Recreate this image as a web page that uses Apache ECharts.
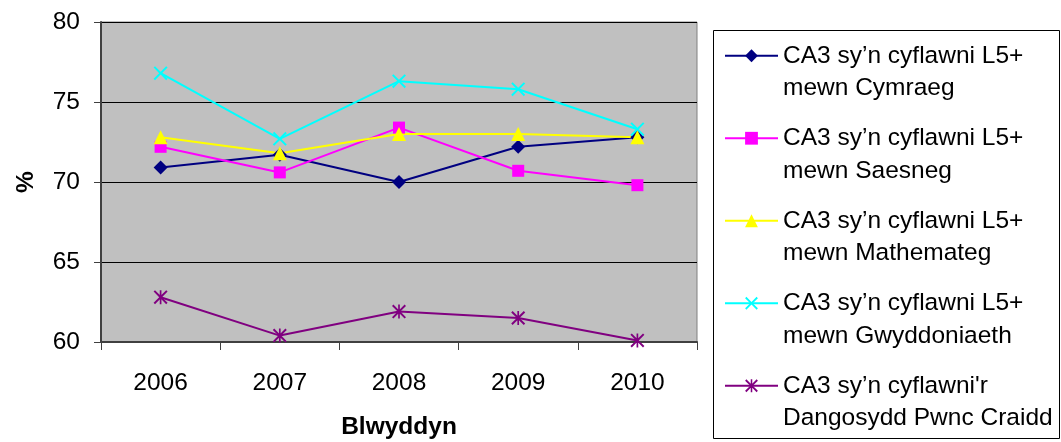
<!DOCTYPE html>
<html>
<head>
<meta charset="utf-8">
<script src="https://cdn.jsdelivr.net/npm/echarts@6/dist/echarts.min.js"></script>
<style>
html,body{margin:0;padding:0;background:#fff;}
#c{width:1061px;height:442px;}
</style>
</head>
<body>
<div id="c"></div>
<script>
const years = ['2006', '2007', '2008', '2009', '2010'];
const yTicks = { min: 60, max: 80, interval: 5 };

const seriesNames = [
  'CA3 sy’n cyflawni L5+ mewn Cymraeg',
  'CA3 sy’n cyflawni L5+ mewn Saesneg',
  'CA3 sy’n cyflawni L5+ mewn Mathemateg',
  'CA3 sy’n cyflawni L5+ mewn Gwyddoniaeth',
  "CA3 sy’n cyflawni'r Dangosydd Pwnc Craidd"
];
const legendLine1 = [
  'CA3 sy’n cyflawni L5+',
  'CA3 sy’n cyflawni L5+',
  'CA3 sy’n cyflawni L5+',
  'CA3 sy’n cyflawni L5+',
  "CA3 sy’n cyflawni'r"
];
const legendLine2 = [
  'mewn Cymraeg',
  'mewn Saesneg',
  'mewn Mathemateg',
  'mewn Gwyddoniaeth',
  'Dangosydd Pwnc Craidd'
];

const cymraeg      = [70.9, 71.7, 70.0, 72.2, 72.8];
const saesneg      = [72.2, 70.6, 73.4, 70.7, 69.8];
const mathemateg   = [72.8, 71.8, 73.0, 73.0, 72.8];
const gwyddoniaeth = [76.8, 72.7, 76.3, 75.8, 73.3];
const pwncCraidd   = [62.8, 60.4, 61.9, 61.5, 60.1];

const values = [cymraeg, saesneg, mathemateg, gwyddoniaeth, pwncCraidd];
const colors = ['#000080', '#FF00FF', '#FFFF00', '#00FFFF', '#800080'];

const xPath = 'path://M0,1L1,0L5,4L9,0L10,1L6,5L10,9L9,10L5,6L1,10L0,9L4,5Z';
const starPath = 'path://M0,1L1,0L5,4L9,0L10,1L6,5L10,9L9,10L5,6L1,10L0,9L4,5Z M4.4,0L5.6,0L5.6,10L4.4,10Z';
const symbols = ['diamond', 'rect', 'triangle', xPath, starPath];
const symbolSizes = [14, 12, 14, 14, 14];

const FONT = '"Liberation Sans", Arial, sans-serif';
const FS = 24.5;
const chart = echarts.init(document.getElementById('c'), null, { renderer: 'canvas' });

const option = {
  animation: false,
  textStyle: { fontFamily: FONT },
  grid: {
    left: 101, top: 22, right: 364, bottom: 100,
    containLabel: false,
    outerBoundsMode: 'none',
    show: true, backgroundColor: '#C0C0C0', borderColor: '#808080', borderWidth: 1
  },
  xAxis: {
    type: 'category',
    data: years,
    boundaryGap: true,
    name: 'Blwyddyn',
    nameLocation: 'middle',
    nameGap: 73,
    nameTextStyle: { fontFamily: FONT, fontSize: FS, fontWeight: 'bold', color: '#000' },
    axisLine: { lineStyle: { color: '#404040', width: 2 } },
    axisTick: { show: true, length: 8, lineStyle: { color: '#404040', width: 1 } },
    axisLabel: { fontFamily: FONT, fontSize: FS, color: '#000', margin: 29 },
    splitLine: { show: false }
  },
  yAxis: {
    type: 'value',
    min: yTicks.min, max: yTicks.max, interval: yTicks.interval,
    name: '%',
    nameLocation: 'middle',
    nameGap: 62,
    nameTextStyle: { fontFamily: FONT, fontSize: FS, fontWeight: 'bold', color: '#000' },
    axisLine: { show: true, lineStyle: { color: '#404040', width: 2 } },
    axisTick: { show: true, length: 7, lineStyle: { color: '#404040', width: 1 } },
    axisLabel: { fontFamily: FONT, fontSize: FS, color: '#000', margin: 21 },
    splitLine: { show: true, lineStyle: { color: '#000', width: 1 } }
  },
  legend: {
    orient: 'vertical',
    left: 724, top: 7,
    padding: 0,
    itemGap: -15,
    itemWidth: 53,
    itemHeight: 16,
    data: seriesNames,
    formatter: function (name) {
      const i = seriesNames.indexOf(name);
      return '\n' + legendLine1[i] + '\n' + legendLine2[i];
    },
    textStyle: { fontFamily: FONT, fontSize: FS, color: '#000', lineHeight: 32.5 }
  },
  graphic: [{
    type: 'rect', left: 713, top: 30, z: -1,
    shape: { width: 346, height: 408 },
    style: { fill: '#fff', stroke: '#000', lineWidth: 1 }
  }],
  series: seriesNames.map(function (n, i) {
    return {
      name: n,
      type: 'line',
      data: values[i],
      symbol: symbols[i],
      symbolSize: symbolSizes[i],
      showAllSymbol: true,
      lineStyle: { color: colors[i], width: 2 },
      itemStyle: { color: colors[i], borderWidth: 0 },
      emphasis: { disabled: true }
    };
  })
};
chart.setOption(option);
</script>
</body>
</html>
